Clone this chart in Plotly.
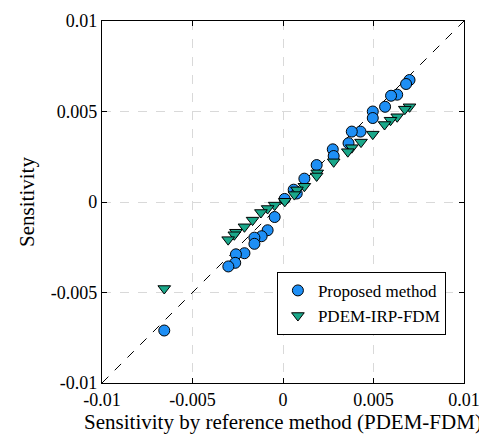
import plotly.graph_objects as go

# Proposed method (circles)
prop_x = [0.00699, 0.00680, 0.00631, 0.00597, 0.00564, 0.00496, 0.00496, 0.00428, 0.00380,
          0.00362, 0.00275, 0.00280, 0.00186, 0.00118, 0.00059, 0.00076, 0.00009, -0.00046,
          -0.00085, -0.00118, -0.00158, -0.00158, -0.00213, -0.00260, -0.00264, -0.00302, -0.00656]
prop_y = [0.00674, 0.00652, 0.00593, 0.00587, 0.00526, 0.00500, 0.00464, 0.00389, 0.00389,
          0.00325, 0.00291, 0.00254, 0.00204, 0.00129, 0.00068, 0.00047, 0.00017, -0.00083,
          -0.00156, -0.00189, -0.00197, -0.00231, -0.00283, -0.00289, -0.00336, -0.00356, -0.00710]

# PDEM-IRP-FDM (triangles)
irp_x = [0.00699, 0.00673, 0.00631, 0.00594, 0.00561, 0.00496, 0.00431, 0.00380, 0.00358,
         0.00280, 0.00189, 0.00186, 0.00118, 0.00077, 0.00063, 0.00010, -0.00046, -0.00085,
         -0.00122, -0.00168, -0.00213, -0.00260, -0.00269, -0.00303, -0.00656]
irp_y = [0.00526, 0.00513, 0.00471, 0.00452, 0.00428, 0.00375, 0.00331, 0.00300, 0.00278,
         0.00222, 0.00161, 0.00144, 0.00087, 0.00067, 0.00041, 0.00004, -0.00017, -0.00036,
         -0.00058, -0.00100, -0.00137, -0.00167, -0.00181, -0.00208, -0.00478]

axis_range = [-0.01, 0.01]
tick_vals = [-0.01, -0.005, 0, 0.005, 0.01]
tick_text = ["-0.01", "-0.005", "0", "0.005", "0.01"]

font = "Liberation Serif"
fig = go.Figure()

# reference line y = x
fig.add_trace(go.Scatter(x=axis_range, y=axis_range, mode="lines",
                         line=dict(color="black", width=1, dash="dash"),
                         showlegend=False, hoverinfo="skip"))

fig.add_trace(go.Scatter(x=prop_x, y=prop_y, mode="markers", name="Proposed method",
                         marker=dict(symbol="circle", size=11, color="#1e8ff5",
                                     line=dict(color="black", width=1))))
fig.add_trace(go.Scatter(x=irp_x, y=irp_y, mode="markers", name="PDEM-IRP-FDM",
                         marker=dict(symbol="triangle-down", size=11, color="#1aa88a",
                                     line=dict(color="black", width=1))))

axis_style = dict(range=axis_range, tickvals=tick_vals, ticktext=tick_text,
                  showgrid=True, gridcolor="#d9d9d9", griddash="dash", gridwidth=1,
                  zeroline=False, showline=True, linecolor="black", linewidth=1.2,
                  mirror="ticks", ticks="inside", ticklen=5, tickcolor="black",
                  tickfont=dict(family=font, size=18, color="black"), automargin=False)

fig.update_xaxes(**axis_style,
                 title=dict(text="Sensitivity by reference method (PDEM-FDM)",
                            font=dict(family=font, size=21, color="black"), standoff=3))
fig.update_yaxes(**axis_style,
                 title=dict(text="Sensitivity",
                            font=dict(family=font, size=21, color="black"), standoff=10))

fig.update_layout(
    width=487, height=434,
    margin=dict(l=94, r=31, t=13, b=59),
    plot_bgcolor="white", paper_bgcolor="white",
    legend=dict(x=0.95, y=0.307, xanchor="right", yanchor="top",
                bordercolor="black", borderwidth=1, bgcolor="white",
                font=dict(family=font, size=17, color="black"),
                tracegroupgap=0, itemwidth=30),
)

fig.write_html("out.html")
